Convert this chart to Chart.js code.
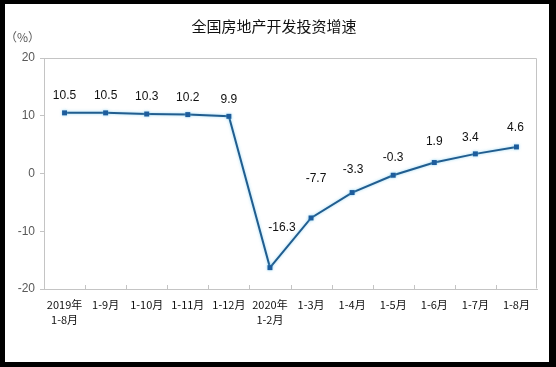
<!DOCTYPE html>
<html>
<head>
<meta charset="utf-8">
<script src="https://cdn.jsdelivr.net/npm/chart.js@4/dist/chart.umd.min.js"></script>
<style>
  html, body { margin: 0; padding: 0; background: #000; }
  #wrap { position: relative; width: 556px; height: 367px; }
</style>
</head>
<body>
<div id="wrap"><canvas id="c" width="556" height="367"></canvas></div>
<script>
const titleText = '全国房地产开发投资增速';
const unitText = '（%）';
const categories = [
  ['2019年', '1-8月'], '1-9月', '1-10月', '1-11月', '1-12月',
  ['2020年', '1-2月'], '1-3月', '1-4月', '1-5月', '1-6月', '1-7月', '1-8月'
];
const growth = [10.5, 10.5, 10.3, 10.2, 9.9, -16.3, -7.7, -3.3, -0.3, 1.9, 3.4, 4.6];
const yTicks = [-20, -10, 0, 10, 20];

// label placement offsets (dx, dy) relative to each point
const labelShift = [
  [0, -17], [0, -17], [0, -17], [0, -17], [0, -17],
  [12, -40], [5, -39], [1, -23], [0, -18], [0, -21], [-5, -16], [-1, -19]
];

const framePlugin = {
  id: 'frame',
  beforeDraw(chart) {
    const ctx = chart.ctx;
    ctx.save();
    ctx.fillStyle = '#000';
    ctx.fillRect(0, 0, chart.width, chart.height);
    ctx.fillStyle = '#fff';
    ctx.fillRect(5, 4, 544, 358);
    ctx.restore();
  },
  afterDraw(chart) {
    const ctx = chart.ctx;
    const a = chart.chartArea;
    const xs = chart.scales.x;
    ctx.save();
    // plot frame
    ctx.strokeStyle = '#c4c4c4';
    ctx.lineWidth = 1;
    ctx.beginPath();
    ctx.moveTo(a.left + 0.5, a.top + 0.5);
    ctx.lineTo(a.right - 0.5, a.top + 0.5);
    ctx.lineTo(a.right - 0.5, a.bottom - 0.5);
    ctx.stroke();
    // inward tick marks at category boundaries
    ctx.strokeStyle = '#c4c4c4';
    for (let i = 1; i < categories.length; i++) {
      const x = Math.round(xs.getPixelForValue(i - 0.5)) + 0.5;
      ctx.beginPath();
      ctx.moveTo(x, a.bottom);
      ctx.lineTo(x, a.bottom - 4);
      ctx.stroke();
    }
    // title
    ctx.fillStyle = '#111';
    ctx.font = '15px "Noto Sans CJK SC"';
    ctx.textAlign = 'center';
    ctx.textBaseline = 'middle';
    ctx.fillText(titleText, 274, 26);
    // unit
    ctx.fillStyle = '#595959';
    ctx.font = '12px "Noto Sans CJK SC"';
    ctx.textAlign = 'left';
    ctx.fillText(unitText, 5, 37);
    // data labels
    const meta = chart.getDatasetMeta(0);
    ctx.fillStyle = '#111';
    ctx.font = '12px "Liberation Sans", Arial';
    ctx.textAlign = 'center';
    ctx.textBaseline = 'middle';
    meta.data.forEach((pt, i) => {
      const s = labelShift[i];
      ctx.fillText(growth[i].toFixed(1), pt.x + s[0], pt.y + s[1]);
    });
    ctx.restore();
  }
};

const glowPlugin = {
  id: 'glow',
  beforeDatasetDraw(chart) {
    chart.ctx.save();
    chart.ctx.shadowColor = 'rgba(110,200,240,0.7)';
    chart.ctx.shadowBlur = 3;
  },
  afterDatasetDraw(chart) {
    chart.ctx.restore();
  }
};

new Chart(document.getElementById('c'), {
  type: 'line',
  data: {
    labels: categories,
    datasets: [{
      data: growth,
      borderColor: '#215d8f',
      borderWidth: 2,
      backgroundColor: '#1d5c9c',
      pointStyle: 'rect',
      pointRadius: 3.5,
      pointBorderWidth: 0,
      pointBackgroundColor: '#1d5c9c',
      tension: 0,
      fill: false
    }]
  },
  options: {
    responsive: false,
    animation: false,
    devicePixelRatio: 1,
    layout: { padding: { left: 0, top: 58, right: 19, bottom: 0 } },
    plugins: { legend: { display: false }, tooltip: { enabled: false }, title: { display: false } },
    scales: {
      x: {
        offset: true,
        grid: { display: true, drawOnChartArea: false, drawTicks: false, offset: true, color: '#c4c4c4' },
        border: { color: '#c4c4c4' },
        ticks: {
          color: '#111',
          font: { family: '"Noto Sans CJK SC"', size: 11, lineHeight: 1.3 },
          padding: 9,
          maxRotation: 0,
          autoSkip: false
        },
        afterFit(scale) { scale.height = 78; }
      },
      y: {
        min: -20, max: 20,
        afterBuildTicks(scale) { scale.ticks = yTicks.map(v => ({ value: v })); },
        grid: { drawOnChartArea: false, drawTicks: true, tickLength: 4, color: '#c4c4c4' },
        border: { color: '#c4c4c4' },
        ticks: {
          color: '#595959',
          font: { family: '"Liberation Sans", Arial', size: 12 },
          padding: 5
        },
        afterFit(scale) { scale.width = 44; }
      }
    }
  },
  plugins: [framePlugin, glowPlugin]
});
</script>
</body>
</html>
